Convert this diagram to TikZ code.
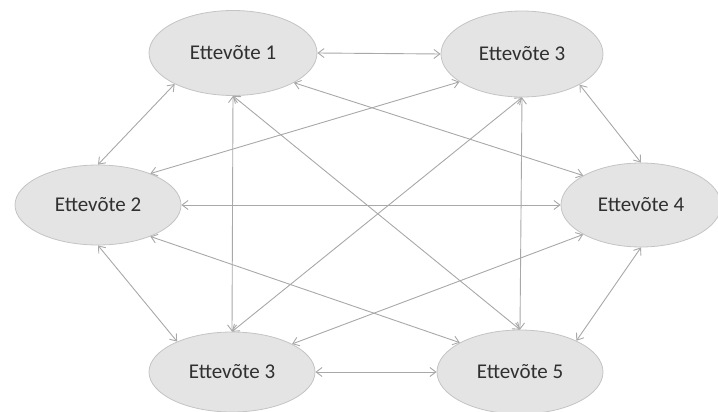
\documentclass[tikz,border=0pt]{standalone}
\usepackage{fontspec}
\setmainfont{Carlito}
\usetikzlibrary{shapes.geometric,arrows.meta}
\definecolor{firmfill}{HTML}{E4E4E4}
\definecolor{firmedge}{HTML}{C4C4C4}
\definecolor{linkgray}{HTML}{A8A8A8}
\definecolor{labelgray}{HTML}{303030}
\tikzset{
  firm/.style={ellipse, draw=firmedge, fill=firmfill, line width=0.8pt,
    inner sep=0pt, text=labelgray, font=\fontsize{21}{25}\selectfont},
  link/.style={draw=linkgray, line width=0.9pt,
    {Straight Barb[length=6pt,width=9pt]}-{Straight Barb[length=6pt,width=9pt]}}
}
\begin{document}
\begin{tikzpicture}[x=1pt,y=-1pt]
\useasboundingbox (0,0) rectangle (718,412);
% companies
\node[firm, minimum width=168pt, minimum height=85pt] (e1) at (233,53) {Ettevõte 1};
\node[firm, minimum width=162pt, minimum height=86pt] (e3t) at (522,54) {Ettevõte 3};
\node[firm, minimum width=166pt, minimum height=80pt] (e2) at (98,205) {Ettevõte 2};
\node[firm, minimum width=160pt, minimum height=84pt] (e4) at (641,205) {Ettevõte 4};
\node[firm, minimum width=166pt, minimum height=80pt] (e3b) at (232,372) {Ettevõte 3};
\node[firm, minimum width=166pt, minimum height=84pt] (e5) at (520,372) {Ettevõte 5};
% relations: every pair is linked both ways
\draw[link] (e1.east) -- (e3t.west);
\draw[link] (e2.east) -- (e4.west);
\draw[link] (e3b.east) -- (e5.west);
\draw[link] (e1.208) -- (e2.north);
\draw[link] (e2.south) -- (e3b.151);
\draw[link] (e3t.332) -- (e4.north);
\draw[link] (e4.south) -- (e5.29);
\draw[link] (e1.south) -- (e3b.north);
\draw[link] (e3t.south) -- (e5.north);
\draw[link] (e1.334) -- (e4.153);
\draw[link] (e1.south) -- (e5.north);
\draw[link] (e2.31) -- (e3t.204);
\draw[link] (e2.329) -- (e5.154);
\draw[link] (e3t.south) -- (e3b.north);
\draw[link] (e4.207) -- (e3b.25);
\end{tikzpicture}
\end{document}
